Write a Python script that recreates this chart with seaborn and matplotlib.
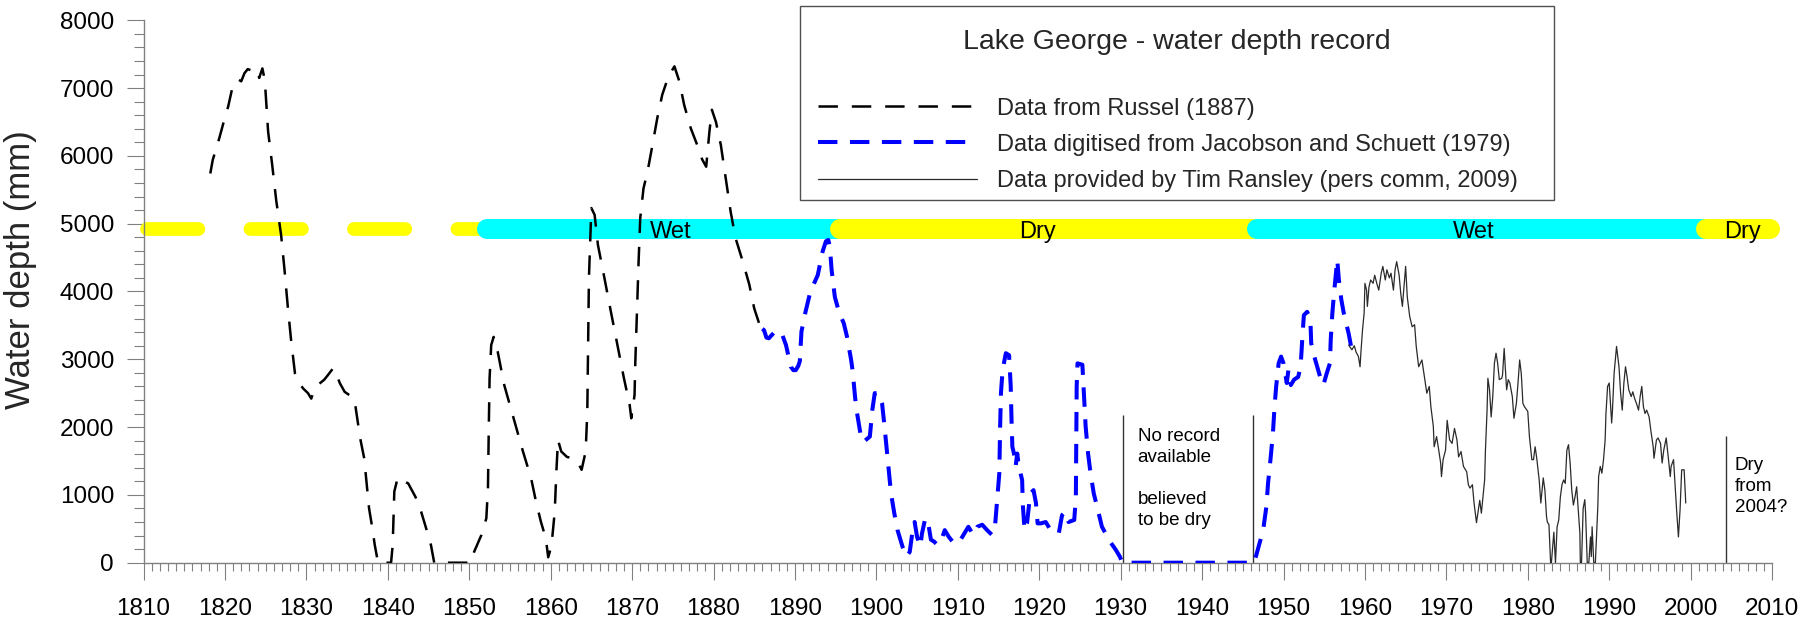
import numpy as np
import pandas as pd
import seaborn as sns
import matplotlib.pyplot as plt
from matplotlib.patches import Rectangle
from matplotlib.ticker import MultipleLocator

# ---- data ----
# Russel (1887)
russel_year = [1818.2, 1818.5, 1819.3, 1819.8, 1820.4, 1820.9, 1821.6, 1822.0, 1822.4, 1822.8,
               1823.5, 1824.0, 1824.2, 1824.6, 1824.9, 1825.3, 1825.8, 1826.3, 1826.6, 1826.9,
               1827.3, 1827.7, 1828.1, 1828.6, 1829.1, 1829.6, 1830.2, 1830.6, 1831.0, 1831.4,
               1831.8, 1832.2, 1832.6, 1833.3, 1833.7, 1834.1, 1834.7, 1835.3, 1835.7, 1836.0,
               1836.6, 1837.1, 1837.3, 1837.7, 1838.1, 1838.4, 1838.8, 1840.4, 1840.6, 1840.8,
               1841.2, 1841.6, 1842.0, 1842.5, 1843.4, 1844.1, 1844.7, 1845.3, 1845.7, 1850.2,
               1850.6, 1851.5, 1852.1, 1852.3, 1852.4, 1852.5, 1852.7, 1853.0, 1853.5, 1854.3,
               1855.1, 1855.7, 1856.6, 1857.6, 1858.2, 1858.8, 1859.4, 1859.7, 1860.1, 1860.5,
               1860.7, 1860.9, 1861.3, 1862.0, 1862.7, 1863.3, 1863.8, 1864.3, 1864.5, 1864.6,
               1864.7, 1864.9, 1865.0, 1865.4, 1865.8, 1866.6, 1867.4, 1868.2, 1869.0, 1869.7,
               1869.9, 1870.3, 1870.4, 1870.6, 1870.8, 1871.0, 1871.4, 1871.9, 1872.5, 1873.1,
               1873.7, 1874.4, 1874.8, 1875.2, 1875.8, 1876.4, 1877.2, 1878.0, 1878.6, 1879.1,
               1879.5, 1879.8, 1880.3, 1880.9, 1881.5, 1882.1, 1882.7, 1883.6, 1884.4, 1885.0,
               1885.6]
russel_depth = [5740, 5940, 6260, 6480, 6730, 7000, 7130, 7100, 7220, 7280,
                7250, 7270, 7150, 7290, 7110, 6360, 5870, 5340, 5080, 4830,
                4340, 3800, 3310, 2790, 2650, 2570, 2500, 2420, 2560, 2620,
                2660, 2700, 2760, 2870, 2780, 2650, 2520, 2470, 2450, 2330,
                1840, 1540, 1290, 800, 510, 260, 0, 0, 260, 1050,
                1245, 1190, 1200, 1170, 970, 750, 510, 260, 0, 0,
                160, 410, 655, 1100, 1980, 2720, 3210, 3330, 3110, 2620,
                2280, 2030, 1640, 1245, 900, 605, 360, 80, 250, 750,
                1340, 1810, 1640, 1560, 1540, 1490, 1370, 1640, 2230, 3210,
                4200, 4880, 5230, 5130, 4690, 4200, 3700, 3210, 2720, 2330,
                2130, 2470, 2970, 3700, 4440, 5080, 5520, 5770, 6160, 6560,
                6900, 7150, 7240, 7320, 7100, 6750, 6410, 6160, 5950, 5840,
                6360, 6680, 6500, 6160, 5670, 5180, 4790, 4440, 4100, 3750,
                3530]

# Jacobson and Schuett (1979)
jacobson_year = [1886.0, 1886.2, 1886.5, 1886.8, 1887.1, 1887.4, 1888.3, 1888.9, 1889.5, 1889.8,
                 1890.1, 1890.4, 1890.6, 1890.8, 1891.3, 1891.9, 1892.8, 1893.4, 1893.8, 1894.1,
                 1894.3, 1894.5, 1894.9, 1895.4, 1896.0, 1896.4, 1896.9, 1897.1, 1897.3, 1897.5,
                 1897.9, 1898.2, 1898.6, 1899.2, 1899.5, 1899.8, 1900.3, 1900.7, 1901.0, 1901.4,
                 1901.8, 1902.2, 1902.6, 1903.2, 1903.7, 1904.1, 1904.4, 1904.7, 1905.0, 1905.4,
                 1905.6, 1906.0, 1906.3, 1906.7, 1907.1, 1907.5, 1908.0, 1908.4, 1908.9, 1909.5,
                 1910.1, 1910.8, 1911.3, 1911.9, 1912.4, 1913.0, 1913.6, 1914.2, 1914.6, 1914.8,
                 1915.1, 1915.2, 1915.3, 1915.5, 1915.9, 1916.3, 1916.5, 1916.6, 1916.7, 1916.9,
                 1917.1, 1917.3, 1917.5, 1917.9, 1918.0, 1918.2, 1918.5, 1918.9, 1919.3, 1919.6,
                 1919.8, 1920.2, 1920.8, 1921.4, 1922.4, 1922.8, 1923.2, 1923.6, 1924.3, 1924.5,
                 1924.55, 1924.6, 1924.7, 1925.3, 1925.5, 1925.7, 1926.0, 1926.3, 1926.7, 1927.2,
                 1927.7, 1928.7, 1929.4, 1929.9, 1930.2, 1946.4, 1947.0, 1947.5, 1947.9, 1948.1,
                 1948.4, 1948.7, 1948.9, 1949.1, 1949.4, 1949.7, 1950.0, 1950.4, 1950.6, 1950.9,
                 1951.3, 1951.8, 1952.1, 1952.3, 1952.5, 1952.9, 1953.3, 1953.4, 1953.9, 1954.5,
                 1954.9, 1955.3, 1955.7, 1955.8, 1956.0, 1956.2, 1956.4, 1956.6, 1956.8, 1957.1,
                 1957.4, 1958.0, 1958.3, 1958.5]
jacobson_depth = [3450, 3430, 3320, 3310, 3350, 3390, 3410, 3210, 2890, 2840,
                  2840, 2900, 2970, 3410, 3700, 4000, 4240, 4590, 4740, 4760,
                  4650, 4320, 3920, 3700, 3530, 3330, 2990, 2820, 2550, 2300,
                  2010, 1790, 1800, 1860, 2250, 2500, 2500, 2350, 2010, 1520,
                  1020, 730, 480, 240, 90, 160, 430, 600, 380, 240,
                  430, 650, 630, 340, 310, 260, 340, 480, 380, 290,
                  290, 430, 530, 410, 530, 560, 480, 410, 580, 880,
                  1320, 2010, 2500, 2840, 3090, 3060, 2600, 2100, 1710, 1610,
                  1420, 1610, 1420, 1220, 830, 480, 580, 1020, 1070, 880,
                  580, 580, 600, 480, 430, 700, 750, 600, 630, 970,
                  1710, 2600, 2940, 2920, 2450, 2010, 1610, 1320, 1020, 780,
                  530, 310, 190, 90, 0, 0, 260, 480, 830, 1170,
                  1520, 1910, 2300, 2600, 2940, 3040, 2940, 2650, 2840, 2620,
                  2700, 2740, 2890, 3290, 3650, 3700, 3600, 3240, 2990, 2740,
                  2620, 2790, 2940, 3290, 3680, 3970, 4220, 4470, 4170, 3880,
                  3680, 3380, 3190, 3140]

# Tim Ransley (pers comm, 2009)
ransley_year = [1958.0, 1958.4, 1958.7, 1958.9, 1959.2, 1959.4, 1959.5, 1959.7, 1959.9, 1960.0,
                1960.2, 1960.3, 1960.5, 1960.7, 1961.0, 1961.2, 1961.5, 1961.7, 1962.0, 1962.2,
                1962.5, 1962.7, 1963.0, 1963.2, 1963.5, 1963.7, 1963.9, 1964.2, 1964.4, 1964.6,
                1964.8, 1965.0, 1965.2, 1965.5, 1965.8, 1966.1, 1966.3, 1966.6, 1966.8, 1967.0,
                1967.3, 1967.6, 1967.9, 1968.1, 1968.4, 1968.5, 1968.8, 1969.0, 1969.3, 1969.4,
                1969.6, 1969.9, 1970.1, 1970.4, 1970.7, 1971.0, 1971.3, 1971.5, 1971.8, 1972.1,
                1972.5, 1972.7, 1972.9, 1973.2, 1973.4, 1973.7, 1974.0, 1974.1, 1974.3, 1974.5,
                1974.7, 1974.8, 1975.0, 1975.1, 1975.3, 1975.5, 1975.7, 1975.9, 1976.1, 1976.3,
                1976.5, 1976.8, 1976.9, 1977.1, 1977.3, 1977.4, 1977.6, 1977.8, 1978.1, 1978.3,
                1978.6, 1978.8, 1979.0, 1979.2, 1979.4, 1979.6, 1980.0, 1980.2, 1980.5, 1980.7,
                1980.9, 1981.1, 1981.4, 1981.6, 1981.9, 1982.1, 1982.3, 1982.4, 1982.6, 1982.8,
                1982.9, 1983.2, 1983.4, 1983.6, 1983.8, 1984.0, 1984.2, 1984.4, 1984.6, 1984.8,
                1985.0, 1985.2, 1985.4, 1985.6, 1985.8, 1986.0, 1986.2, 1986.4, 1986.45, 1986.6,
                1986.8, 1987.0, 1987.1, 1987.3, 1987.5, 1987.7, 1987.8, 1987.9, 1988.1, 1988.3,
                1988.6, 1988.7, 1988.9, 1989.1, 1989.3, 1989.5, 1989.6, 1989.8, 1990.0, 1990.3,
                1990.4, 1990.6, 1990.9, 1991.2, 1991.4, 1991.6, 1991.8, 1992.0, 1992.2, 1992.4,
                1992.7, 1992.9, 1993.1, 1993.4, 1993.6, 1993.8, 1994.0, 1994.2, 1994.4, 1994.6,
                1994.9, 1995.1, 1995.4, 1995.5, 1995.8, 1996.0, 1996.3, 1996.5, 1996.7, 1997.0,
                1997.2, 1997.5, 1997.6, 1997.9, 1998.1, 1998.3, 1998.5, 1998.7, 1998.9, 1999.2,
                1999.4]
ransley_depth = [3210, 3140, 3200, 3110, 3040, 2890, 3090, 3430, 3680, 4120,
                 4020, 3780, 4070, 4170, 4120, 4240, 4100, 4020, 4270, 4370,
                 4170, 4320, 4200, 4270, 4020, 4320, 4440, 4240, 3970, 3780,
                 4070, 4370, 3920, 3630, 3480, 3510, 3190, 2890, 2940, 2990,
                 2740, 2500, 2600, 2300, 2010, 1710, 1860, 1710, 1470, 1270,
                 1520, 1660, 2100, 1810, 1760, 1980, 1810, 1560, 1640, 1420,
                 1340, 1150, 1100, 1150, 880, 590, 830, 920, 730, 970,
                 1220, 1660, 2250, 2720, 2550, 2150, 2450, 2940, 3090, 2940,
                 2700, 2720, 2770, 3160, 2770, 2550, 2700, 2650, 2450, 2130,
                 2350, 2650, 2990, 2790, 2350, 2300, 2230, 1860, 1520, 1520,
                 1710, 1540, 1220, 880, 1250, 1070, 680, 600, 560, 0,
                 0, 450, 0, 530, 630, 970, 1150, 1220, 1170, 1660,
                 1740, 1470, 1070, 850, 970, 1120, 780, 430, 0, 0,
                 800, 930, 730, 0, 0, 380, 90, 530, 0, 0,
                 830, 1270, 1420, 1320, 1520, 1810, 2200, 2600, 2650, 2060,
                 2250, 2790, 3190, 2890, 2500, 2250, 2650, 2890, 2740, 2550,
                 2450, 2520, 2430, 2330, 2250, 2450, 2600, 2300, 2200, 2250,
                 2150, 1960, 1710, 1540, 1810, 1840, 1760, 1470, 1660, 1840,
                 1610, 1270, 1420, 1520, 1120, 730, 380, 780, 1370, 1370,
                 880]

# wet / dry periods along the top band
period_start = [1810.4, 1852.2, 1895.5, 1946.8, 2001.9]
period_end = [1852.0, 1896.0, 1947.5, 2003.0, 2009.8]
period_color = ['#ffff00', '#00ffff', '#ffff00', '#00ffff', '#ffff00']
period_dashed = [True, False, False, False, False]
period_label = ['', 'Wet', 'Dry', 'Wet', 'Dry']
period_label_year = [None, 1874.7, 1919.8, 1973.4, 2006.4]
band_depth = 4920

# vertical marker lines and notes
marker_year = [1930.3, 1946.3, 2004.3]
marker_top = [2180, 2180, 1870]
notes = ['No record\navailable\n\nbelieved\nto be dry', 'Dry\nfrom\n2004?']
note_year = [1932.1, 2005.4]
note_depth = [1245, 1121]

sns.set_theme(style='ticks')
plt.rcParams['font.family'] = ['Liberation Sans', 'DejaVu Sans']
plt.rcParams['lines.scale_dashes'] = False

W, H = 1819, 628
fig = plt.figure(figsize=(W / 100, H / 100), dpi=100)
ax = fig.add_axes([0.0789, 0.104, 0.8953, 0.8637])

# band of wet / dry periods
for s, e, c, d in zip(period_start, period_end, period_color, period_dashed):
    if d:
        ax.plot([s, e], [band_depth, band_depth], color=c, lw=9.9, linestyle=(0, (37, 37.5)),
                dash_capstyle='round', clip_on=False, zorder=1)
    else:
        ax.plot([s, e], [band_depth, band_depth], color=c, lw=14.4,
                solid_capstyle='round', clip_on=False, zorder=1)
for lab, yr in zip(period_label, period_label_year):
    if lab:
        ax.text(yr, 4790, lab, ha='center', va='baseline', fontsize=17, color='black', zorder=2)

russel = pd.DataFrame({'year': russel_year, 'depth': russel_depth})
jacobson = pd.DataFrame({'year': jacobson_year, 'depth': jacobson_depth})
ransley = pd.DataFrame({'year': ransley_year, 'depth': ransley_depth})

sns.lineplot(data=russel, x='year', y='depth', ax=ax, color='black', lw=1.8,
             linestyle=(0, (14, 10)), estimator=None, sort=False,
             label='Data from Russel (1887)', zorder=3)
sns.lineplot(data=jacobson, x='year', y='depth', ax=ax, color='#0000ff', lw=2.9,
             linestyle=(0, (14, 9)), estimator=None, sort=False,
             label='Data digitised from Jacobson and Schuett (1979)', zorder=3)
sns.lineplot(data=ransley, x='year', y='depth', ax=ax, color='#2a2a2a', lw=0.9,
             estimator=None, sort=False,
             label='Data provided by Tim Ransley (pers comm, 2009)', zorder=3)

ax.vlines(marker_year, 0, marker_top, color='#333333', lw=1, zorder=2)
for t, x, y in zip(notes, note_year, note_depth):
    ax.text(x, y, t, ha='left', va='center', fontsize=13.5, linespacing=1.3, color='black')

ax.set_xlim(1810, 2010)
ax.set_ylim(0, 8000)
ax.xaxis.set_major_locator(MultipleLocator(10))
ax.xaxis.set_minor_locator(MultipleLocator(1))
ax.yaxis.set_major_locator(MultipleLocator(1000))
ax.yaxis.set_minor_locator(MultipleLocator(200))
ax.tick_params(which='both', color='#808080', width=0.8, labelsize=17.5, labelcolor='black')
ax.tick_params(axis='x', which='major', length=12.2, pad=13)
ax.tick_params(axis='x', which='minor', length=5.8)
ax.tick_params(axis='y', which='major', length=12.2, pad=9)
ax.tick_params(axis='y', which='minor', length=7.2)
sns.despine(ax=ax)
for sp in ['left', 'bottom']:
    ax.spines[sp].set_color('#808080')
    ax.spines[sp].set_linewidth(1)

ax.set_xlabel('')
ax.set_ylabel('Water depth (mm)', fontsize=25)
ax.yaxis.set_label_coords(-0.0655, 0.54)

# legend: framed box with the chart title inside
handles, labels = ax.get_legend_handles_labels()
ax.get_legend().remove()
box = Rectangle((800 / W, 1 - 200 / H), 754 / W, 194 / H, transform=fig.transFigure,
                facecolor='white', edgecolor='#505050', lw=1, zorder=2)
fig.add_artist(box)
fig.text(1177 / W, 1 - 42 / H, 'Lake George - water depth record', ha='center', va='center',
         fontsize=20.5, zorder=3)
fig.legend(handles, labels, loc='upper left', bbox_to_anchor=(818 / W, 1 - 97.5 / H),
           frameon=False, fontsize=17, handlelength=6.75, handletextpad=0.85,
           labelspacing=0.6, borderpad=0, borderaxespad=0)

fig.savefig('out.png', dpi=100, facecolor='white')
